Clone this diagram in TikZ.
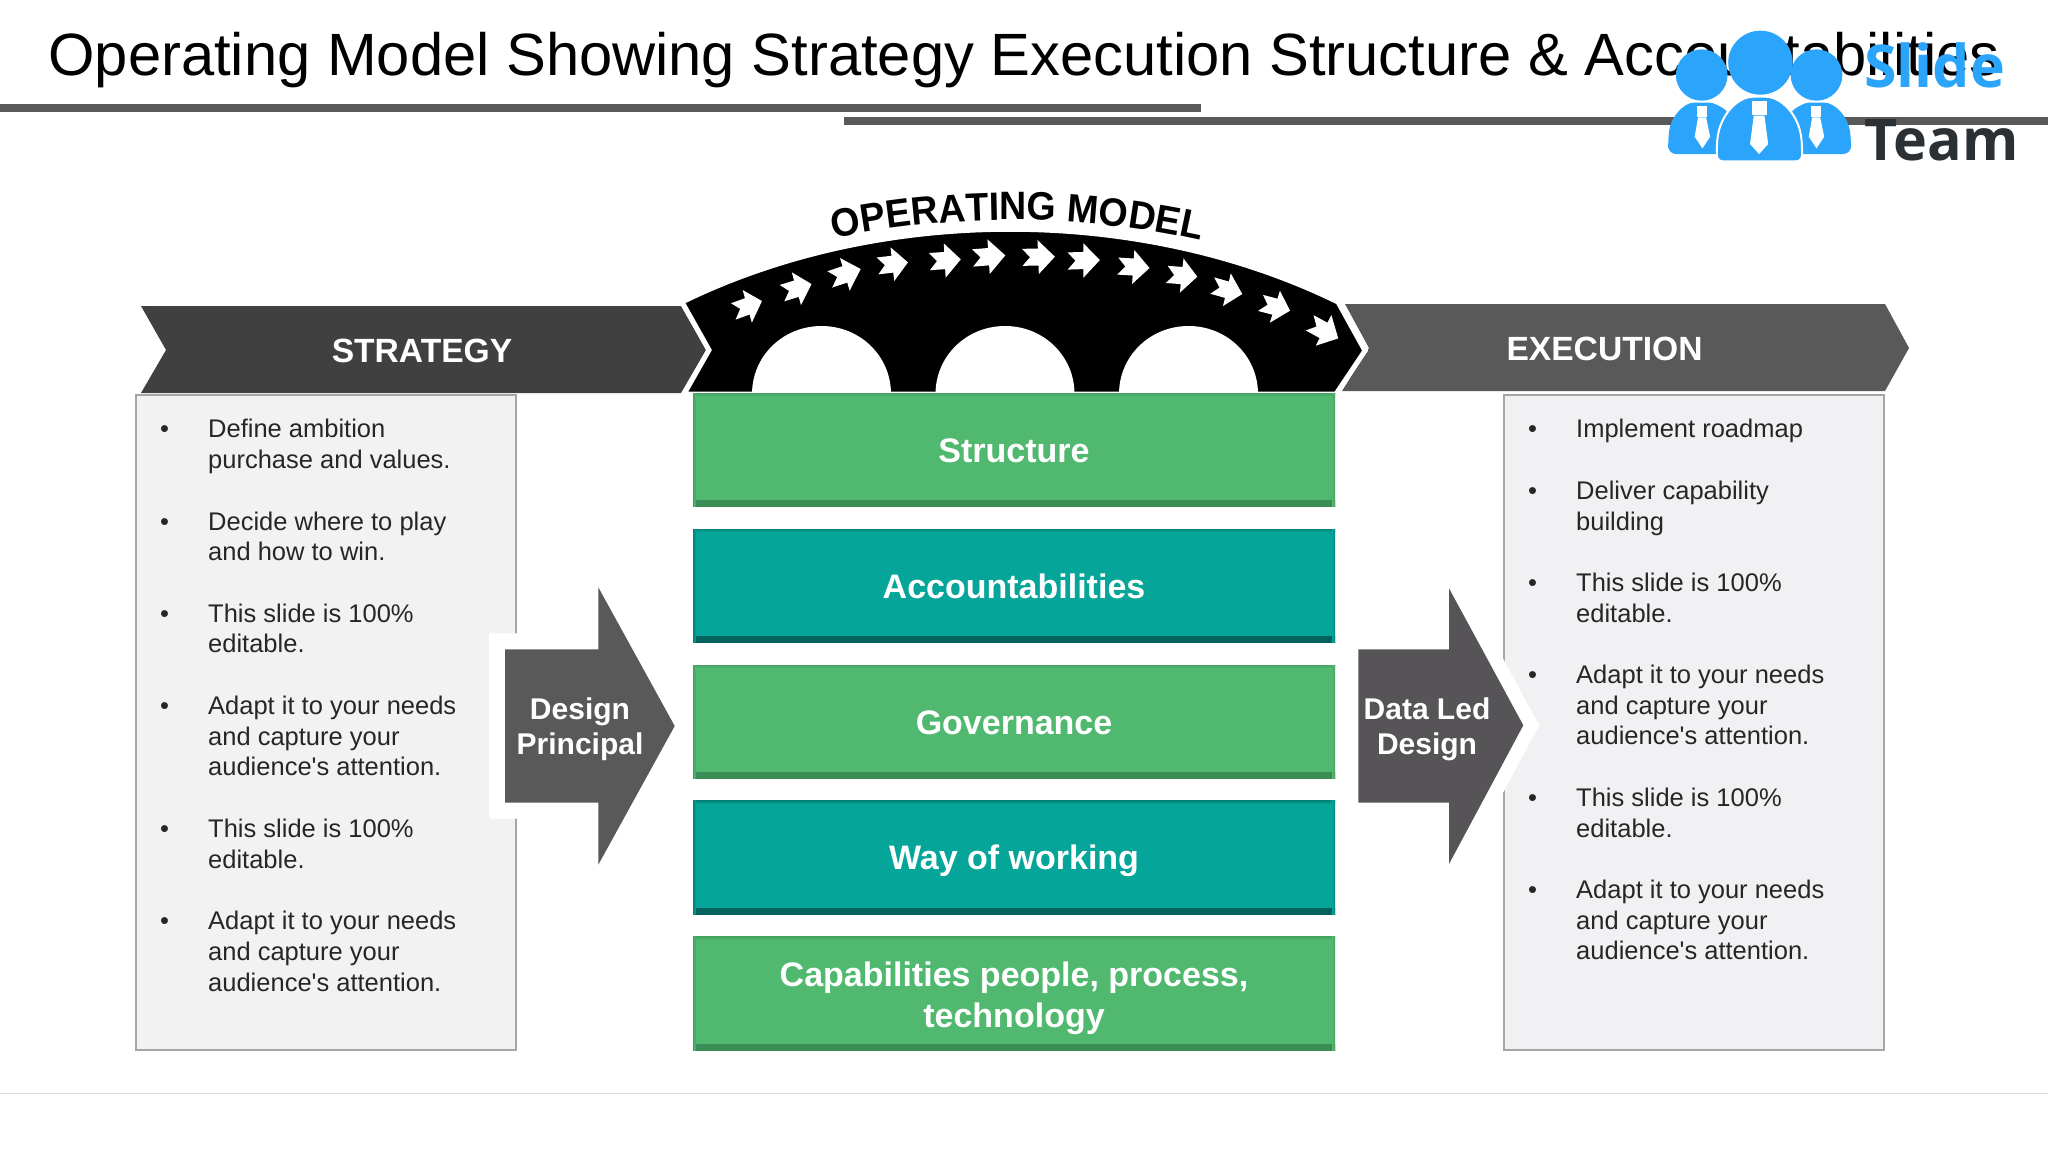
\documentclass[tikz,border=0pt]{standalone}
\usepackage{fontspec}
\usetikzlibrary{calc,decorations.text}
\newfontfamily\arial{Liberation Sans}
\newfontfamily\opfont[FakeStretch=0.95]{Liberation Sans Bold}
\newfontfamily\logofont{Open Sans}
\definecolor{gdark}{HTML}{404040}
\definecolor{gmid}{HTML}{595959}
\definecolor{gmidb}{HTML}{565457}
\definecolor{boxl}{HTML}{F2F2F2}
\definecolor{boxr}{HTML}{F1F0F3}
\definecolor{boxline}{HTML}{A6A6A6}
\definecolor{grn}{HTML}{51B96F}
\definecolor{grne}{HTML}{3A8A55}
\definecolor{tel}{HTML}{05A699}
\definecolor{tele}{HTML}{03605B}
\definecolor{logoblue}{HTML}{2BA5FB}
\definecolor{logodark}{HTML}{2B3035}
\tikzset{
  head/.style={text=white,font=\arial\bfseries\fontsize{16.8}{20}\selectfont,inner sep=0pt},
  arrowtxt/.style={text=white,align=center,font=\arial\bfseries\fontsize{15}{17.6}\selectfont,inner sep=0pt},
  linetxt/.style={anchor=base west,inner sep=0pt,text=black!85,font=\arial\fontsize{12.75}{15}\selectfont},
  oneline/.style={text height=14.2pt,text depth=2pt},
  block/.style n args={2}{minimum width=321pt,minimum height=56.7pt,inner sep=0pt,fill=#1,
    text=white,align=center,font=\arial\bfseries\fontsize{17}{20.65}\selectfont,
    path picture={
      \shade[bottom color=#2,top color=#1] (path picture bounding box.south west) rectangle ($(path picture bounding box.south east)+(0,-6)$);
      \shade[top color=#2!45!#1,bottom color=#1] (path picture bounding box.north west) rectangle ($(path picture bounding box.north east)+(0,3)$);
      \shade[left color=#2!55!#1,right color=#1] (path picture bounding box.south west) rectangle ($(path picture bounding box.north west)+(3,0)$);
      \shade[right color=#2!55!#1,left color=#1] (path picture bounding box.south east) rectangle ($(path picture bounding box.north east)+(-3,0)$);
    }},
  textbox/.style={draw=boxline,line width=1pt,inner sep=0pt},
}
\begin{document}
\begin{tikzpicture}[x=0.5pt,y=-0.5pt]
\useasboundingbox (0,0) rectangle (2048,1152);
\fill[white] (0,0) rectangle (2048,1152);
% title and rules
\node[anchor=base west,inner sep=0pt,text=black,font=\arial\fontsize{29.85}{36}\selectfont] (title) at (48,75.5) {Operating Model Showing Strategy Execution Structure \& Accountabilities};
\fill[gmid] (0,104) rectangle (1201,112);
\fill[gmid] (844,117) rectangle (2048,125);
\draw[color=black!15,line width=0.75pt] (0,1093.3) -- (2048,1093.3);
% chevrons
\fill[gdark] (141,306) -- (681,306) -- (706,350) -- (681,393) -- (141,393) -- (166,350) -- cycle;
\fill[gmid] (1345,304) -- (1885,304) -- (1909,348) -- (1885,391) -- (1342,391) -- (1369,348) -- cycle;
\node[head] (strategy) at (422,351) {STRATEGY};
\node[head] (execution) at (1604.5,349) {EXECUTION};
% arch
\filldraw[fill=black,draw=white,line width=2.5pt,line join=miter]
  (682,302) .. controls (880,205) and (1140,205) .. (1338,302) -- (1365,350.7) -- (1336,394) -- (684,394) -- (709,350) -- cycle;
\foreach \wx in {752,935.5,1119}{
  \fill[white] (\wx,394) .. controls (\wx,356) and ({\wx+31},326) .. ({\wx+69.6},326)
     .. controls ({\wx+108},326) and ({\wx+139},356) .. ({\wx+139},394) -- cycle;
}
\begin{scope}[shift={(660,170)},x=0.2296pt,y=-0.1667pt]
\foreach \tx/\ty/\ax/\ay/\bx/\by in {
  222/393/180/360/200/458, 330/342/287/307/307/405, 437/297/392/264/413/362,
  540/277/502/232/510/333, 655/268/618/220/622/323, 752/256/713/208/718/312,
  860/260/822/210/825/312, 958/270/922/220/922/323, 1066/294/1033/240/1028/342,
  1170/320/1140/265/1132/368, 1268/372/1243/310/1226/408, 1372/422/1350/362/1328/458,
  1477/505/1462/435/1428/527}{
  \pgfmathsetmacro\mx{(\ax+\bx)/2}
  \pgfmathsetmacro\my{(\ay+\by)/2}
  \pgfmathsetmacro\ux{\tx-\mx}
  \pgfmathsetmacro\uy{\ty-\my}
  \pgfmathsetmacro\vx{\ax-\mx}
  \pgfmathsetmacro\vy{\ay-\my}
  \fill[white] (\tx,\ty) \foreach \u/\v in {0/1,0/0.5,-0.95/0.5,-0.48/0,-0.95/-0.5,0/-0.5,0/-1}{
     -- ({\mx+(\u)*\ux+(\v)*\vx},{\my+(\u)*\uy+(\v)*\vy}) } -- cycle;
}
\end{scope}
\path[decorate,decoration={text along path,text align={fit to path},
   text={|\opfont\fontsize{19.8}{20}\selectfont|OPERATING MODEL}}]
   (833.5,238.3) .. controls (955,213.5) and (1080,213.5) .. (1201,240.7);
% text boxes
\node[textbox,fill=boxl,anchor=north west,minimum width=190pt,minimum height=327.6pt] (leftbox) at (135.3,394) {};
\node[textbox,fill=boxr,anchor=north west,minimum width=190pt,minimum height=327.6pt] (rightbox) at (1503,394) {};
% arrows with white halo
\filldraw[fill=gmid,draw=white,line width=16pt,line join=miter] (505,649.3) -- (598.3,649.3) -- (598.3,587.3) -- (674.7,726) -- (598.3,864.7) -- (598.3,802.7) -- (505,802.7) -- cycle;
\fill[gmid] (505,649.3) -- (598.3,649.3) -- (598.3,587.3) -- (674.7,726) -- (598.3,864.7) -- (598.3,802.7) -- (505,802.7) -- cycle;
\filldraw[fill=gmidb,draw=white,line width=14pt,line join=miter] (1358.3,649.3) -- (1449,649.3) -- (1449,588.3) -- (1523.3,725.3) -- (1449,864) -- (1449,802.7) -- (1358.3,802.7) -- cycle;
\fill[gmidb] (1358.3,649.3) -- (1449,649.3) -- (1449,588.3) -- (1523.3,725.3) -- (1449,864) -- (1449,802.7) -- (1358.3,802.7) -- cycle;
\node[arrowtxt] (design) at (580,729.6) {Design\\Principal};
\node[arrowtxt] (dataled) at (1427,729.6) {Data Led\\Design};
% centre blocks
\node[block={grn}{grne},oneline] (b1) at (1014,450) {Structure};
\node[block={tel}{tele},oneline] (b2) at (1014,585.9) {Accountabilities};
\node[block={grn}{grne},oneline] (b3) at (1014,721.8) {Governance};
\node[block={tel}{tele},oneline] (b4) at (1014,857.6) {Way of working};
\node[block={grn}{grne}] (b5) at (1014,993.5) {\rule{0pt}{17.4pt}Capabilities people, process,\\technology};
% left list
\foreach \y/\txt [count=\i] in {437.7/Define ambition,468.4/purchase and values.,530/Decide where to play,560.7/and how to win.,622/This slide is 100\%,652.8/editable.,714/Adapt it to your needs,745/and capture your,775.4/audience's attention.,837/This slide is 100\%,868/editable.,929.5/Adapt it to your needs,960/and capture your,991/audience's attention.}{
  \node[linetxt] (l\i) at (207.8,\y) {\txt};
}
\foreach \y [count=\i] in {437.7,530,622,714,837,929.5}{
  \node[linetxt] (lb\i) at (159.6,\y) {•};
}
% right list
\foreach \y/\txt [count=\i] in {437.7/Implement roadmap,499/Deliver capability,530/building,591.3/This slide is 100\%,622.3/editable.,683.3/Adapt it to your needs,714/and capture your,744.7/audience's attention.,806.3/This slide is 100\%,837/editable.,898/Adapt it to your needs,929/and capture your,959.6/audience's attention.}{
  \node[linetxt] (r\i) at (1575.8,\y) {\txt};
}
\foreach \y [count=\i] in {437.7,499,591.3,683.3,806.3,898}{
  \node[linetxt] (rb\i) at (1527.6,\y) {•};
}
% logo
\begin{scope}[shift={(1600,0)},x=0.1678pt,y=-0.1667pt]
\fill[logoblue] (303,225) circle[radius=77];
\fill[logoblue] (645,225) circle[radius=77];
\fill[logoblue] (478,188) circle[radius=96];
\fill[logoblue,rounded corners=4pt] (203,462) -- (203,420) .. controls (210,350) and (250,308) .. (303,308) .. controls (340,308) and (370,325) .. (390,350) -- (390,462) -- cycle;
\fill[logoblue,rounded corners=4pt] (748,462) -- (748,420) .. controls (740,350) and (700,308) .. (645,308) .. controls (610,308) and (580,325) .. (560,350) -- (560,462) -- cycle;
\filldraw[fill=logoblue,draw=white,line width=1pt,rounded corners=3pt] (348,484) -- (348,440) .. controls (355,345) and (410,290) .. (475,290) .. controls (540,290) and (595,345) .. (602,440) -- (602,484) -- cycle;
\fill[white] (452,303) rectangle (498,345);
\fill[white] (458,347) -- (447,432) -- (474,462) -- (501,432) -- (490,347) -- cycle;
\fill[white] (290,318) rectangle (318,350);
\fill[white] (292,352) -- (282,410) -- (305,445) -- (328,410) -- (316,352) -- cycle;
\fill[white] (630,318) rectangle (658,350);
\fill[white] (632,352) -- (622,410) -- (645,445) -- (668,410) -- (656,352) -- cycle;
\end{scope}
\node[anchor=base west,inner sep=0pt,text=logoblue,font=\logofont\bfseries\fontsize{29.5}{36}\selectfont] (slide) at (1864,87.5) {Slide};
\node[anchor=base west,inner sep=0pt,text=logodark,font=\logofont\bfseries\fontsize{28.7}{36}\selectfont] (team) at (1864,160.5) {Team};
\end{tikzpicture}
\end{document}
